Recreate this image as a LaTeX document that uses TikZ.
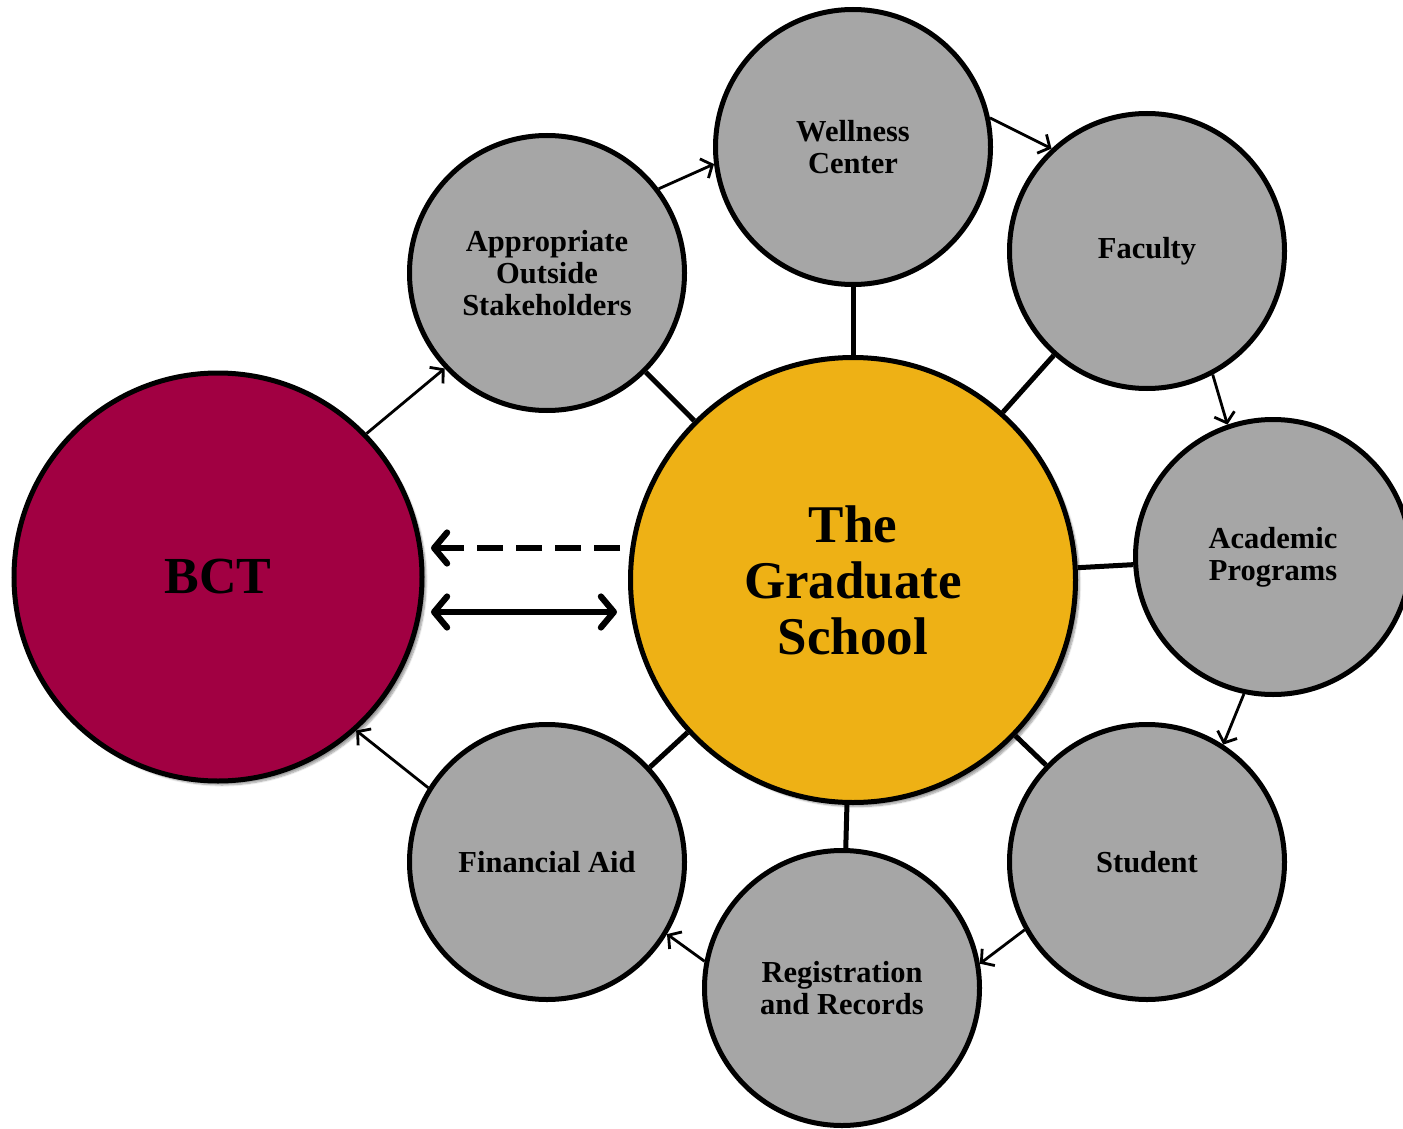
\documentclass[tikz,border=0pt]{standalone}
\usepackage{fontspec}
\setmainfont{Liberation Serif}
\usetikzlibrary{arrows.meta,shadows.blur}
\definecolor{bctred}{HTML}{A10042}
\definecolor{gsgold}{HTML}{EEB115}
\definecolor{circgray}{HTML}{A6A6A6}
\tikzset{
  unit/.style={circle,draw=black,line width=5pt,fill=circgray,minimum size=275pt,inner sep=0pt,align=center,
    font=\fontsize{30.5}{32}\selectfont\bfseries},
  bigc/.style={circle,draw=black,line width=5pt,inner sep=0pt,align=center,
    blur shadow={shadow xshift=4pt,shadow yshift=-4pt,shadow blur steps=8,shadow opacity=40}},
  spoke/.style={line width=5pt},
  flow/.style={line width=2.8pt,-{Straight Barb[length=9pt,width=21pt,line width=2.8pt]}},
  big/.style={line width=6.2pt,line cap=round},
  bigtip/.tip={Straight Barb[length=13pt,width=31pt,line width=6.2pt,round]}
}
\begin{document}
\begin{tikzpicture}[x=1pt,y=-1pt]
\useasboundingbox (0,0) rectangle (1403,1129);
\node[unit] (well) at (853,147) {Wellness\\Center};
\node[unit] (fac) at (1147,251) {Faculty};
\node[unit] (acad) at (1273,557) {Academic\\Programs};
\node[unit] (stu) at (1147,862) {Student};
\node[unit] (reg) at (842,988) {Registration\\and Records};
\node[unit] (fin) at (547,862) {Financial Aid};
\node[unit] (app) at (547,273) {Appropriate\\Outside\\Stakeholders};
\node[bigc,fill=bctred,minimum size=408pt,font=\fontsize{52}{56}\selectfont\bfseries] (bct) at (218,577) {BCT};
\node[bigc,fill=gsgold,minimum size=445pt,font=\fontsize{53}{56}\selectfont\bfseries] (gs) at (853,580) {The\\Graduate\\School};
% spokes
\foreach \n in {well,fac,acad,stu,reg,fin,app}
  \draw[spoke] (gs) -- (\n);
% flow arrows
\draw[flow] (bct.44) -- (app.223);
\draw[flow] (app.37) -- (well.187);
\draw[flow] (well.12) -- (fac.133);
\draw[flow] (fac.298) -- (acad.109);
\draw[flow] (acad.258) -- (stu.57);
\draw[flow] (stu.209) -- (reg.10);
\draw[flow] (reg.169) -- (fin.329);
\draw[flow] (fin.148) -- (bct.312);
% BCT <-> GS
\coordinate (d1) at (620,548);
\coordinate (d2) at (431,548);
\coordinate (s1) at (431,612);
\coordinate (s2) at (617,612);
\draw[big,dash pattern=on 26pt off 13pt,line cap=butt] (d1) -- (438,548);
\draw[big,-bigtip] (445,548) -- (d2);
\draw[big,bigtip-bigtip] (s1) -- (s2);
\end{tikzpicture}
\end{document}
